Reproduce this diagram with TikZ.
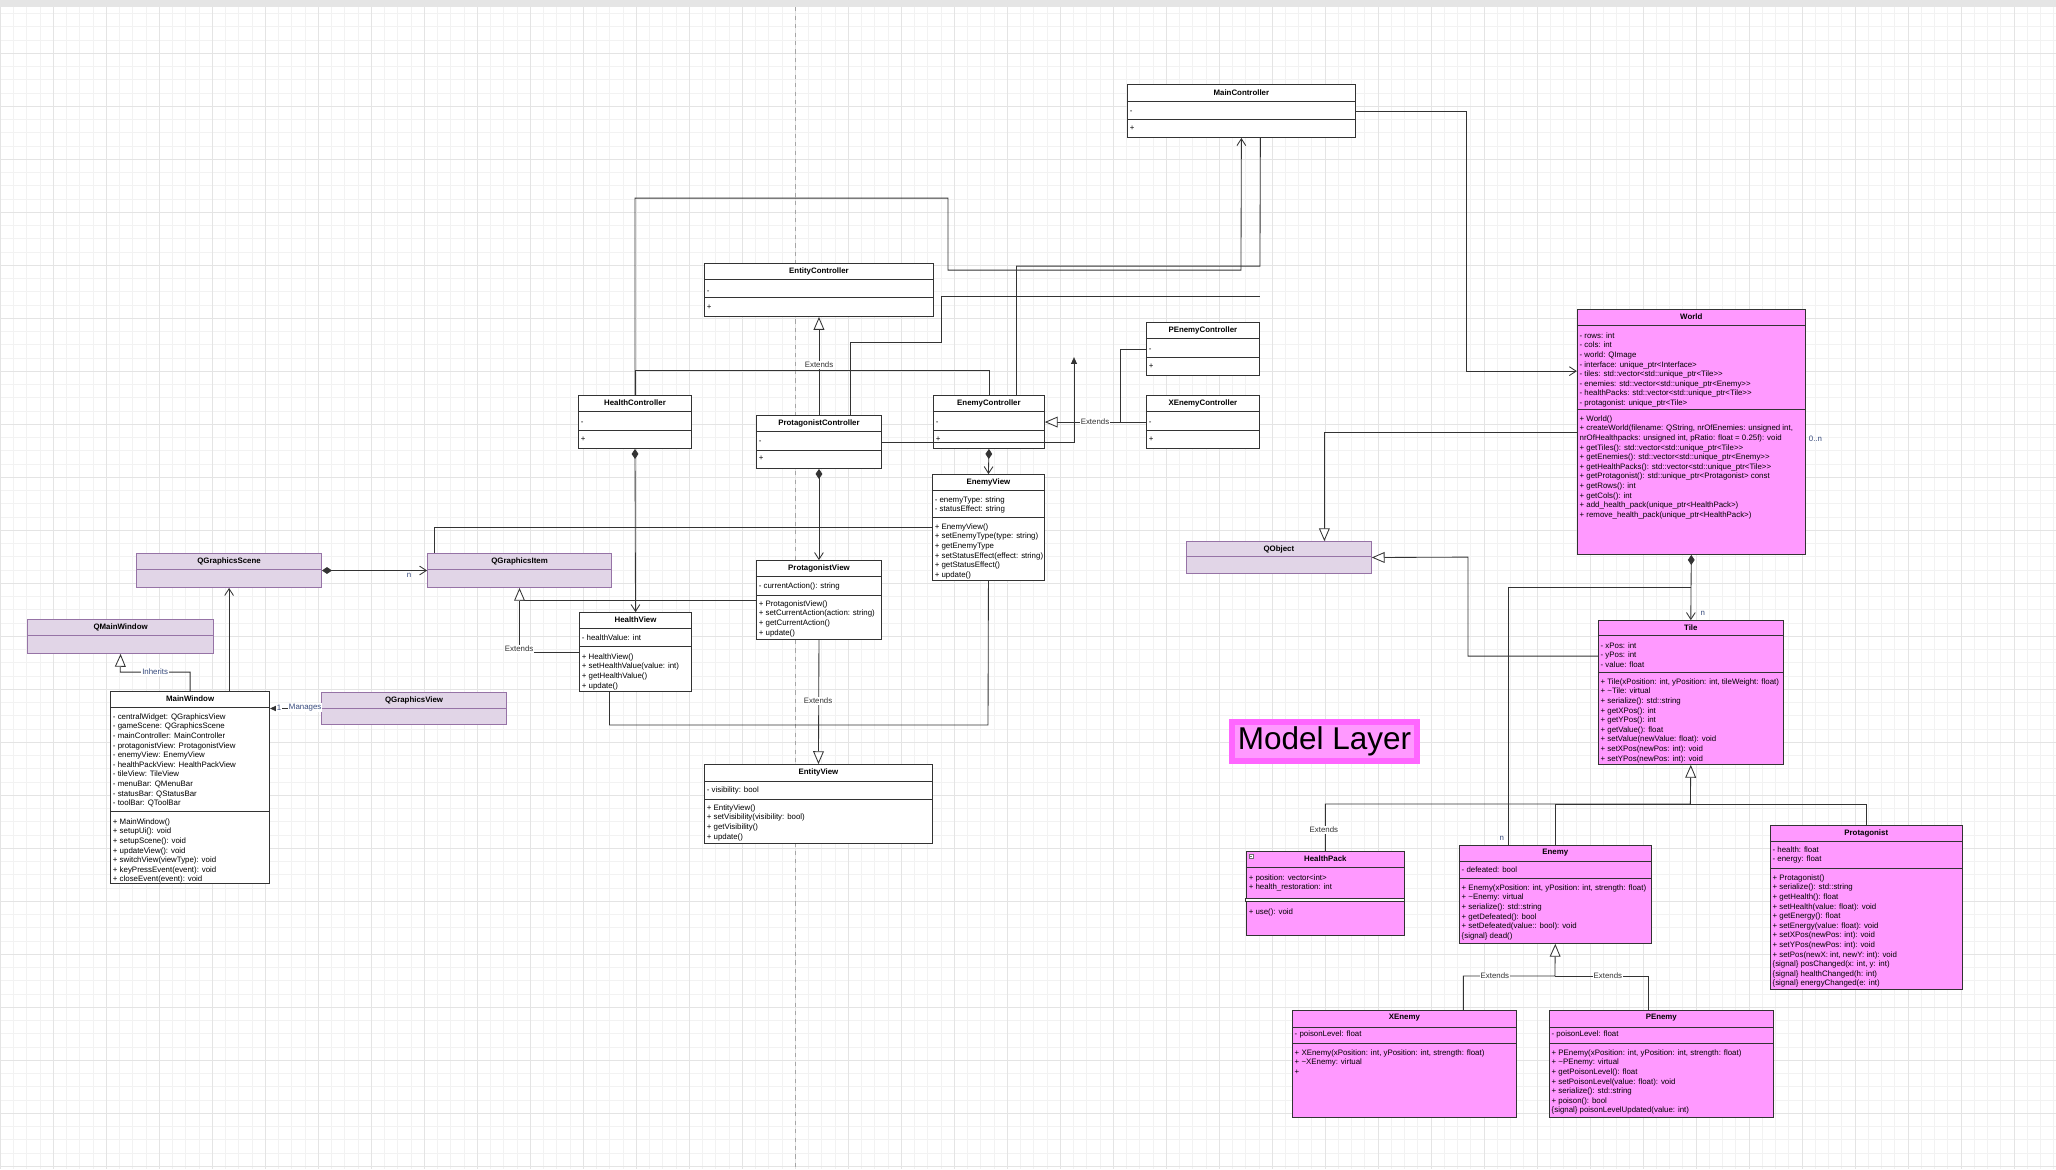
\documentclass[tikz,border=0pt]{standalone}
\usepackage{fontspec}
\newfontfamily\umlfont{Liberation Sans}
\usetikzlibrary{calc,positioning,arrows.meta}

\definecolor{linecol}{RGB}{51,51,51}
\definecolor{pinkfill}{RGB}{255,153,255}
\definecolor{qtfill}{RGB}{225,213,231}
\definecolor{qtdraw}{RGB}{150,115,166}
\definecolor{layerdraw}{RGB}{255,102,255}
\definecolor{labelcol}{RGB}{55,75,125}
\definecolor{gridminorcol}{RGB}{242,242,242}
\definecolor{gridmajorcol}{RGB}{228,228,228}

\newcommand{\memberfont}{\umlfont\fontsize{5.6}{6.83}\selectfont}
\newcommand{\px}{0.025cm}

\tikzset{
	classbox/.style={draw=linecol, fill=white, line width=0.6pt, inner sep=0pt, anchor=north west},
	qtclass/.style={classbox, draw=qtdraw, fill=qtfill},
	modelclass/.style={classbox, fill=pinkfill},
	classtitle/.style={font=\memberfont\bfseries, text=black, inner sep=0pt},
	members/.style={font=\memberfont, text=black, align=left, anchor=north west, inner sep=0pt},
	sepline/.style={line width=0.5pt},
	link/.style={draw=linecol, line width=0.6pt},
	extends/.style={link, -{Triangle[open, length=0.32cm, width=0.27cm, fill=white]}},
	assoc/.style={link, -{Straight Barb[length=0.17cm, width=0.22cm]}},
	compose/.style={link, {Diamond[length=0.25cm, width=0.17cm]}-{Straight Barb[length=0.17cm, width=0.22cm]}},
	solidtip/.style={link, -{Triangle[length=0.17cm, width=0.15cm]}},
	lbl/.style={font=\memberfont, fill=white, inner sep=0.6pt, text=labelcol},
	layerbox/.style={draw=layerdraw, fill=pinkfill, line width=0.15cm, minimum width=185*\px, minimum height=39*\px, inner sep=0pt, font=\umlfont\fontsize{22.4}{26}\selectfont},
	gridminor/.style={draw=gridminorcol, line width=0.3pt},
	gridmajor/.style={draw=gridmajorcol, line width=0.3pt},
	pagebreak/.style={draw=black!35, line width=0.4pt, dash pattern=on 3pt off 3pt},
}

% class box: [style]{name}{x}{y}{width}{height}{title}
\newcommand{\umlclass}[7][classbox]{%
	\node[#1, minimum width=#5*\px, minimum height=#6*\px] (#2) at (#3,#4) {};
	\node[classtitle] (#2-title) at ($(#2.north)+(0,8)$) {#7};
}
\newcommand{\umlsep}[3][linecol]{%
	\draw[sepline, draw=#1] ($(#2.north west)+(0,#3)$) -- ($(#2.north east)+(0,#3)$);
}
\newcommand{\umltext}[4]{%
	\node[members] (#1-#2) at ($(#1.north west)+(2.5,#3)$) {\rule{0pt}{0.75em}#4};
}

\begin{document}
\begin{tikzpicture}[x=0.025cm, y=-0.025cm]
	% canvas
	\fill[white] (0,0) rectangle (2056,1169);
	\foreach \gx in {0,13.25,...,2056} {\draw[gridminor] (\gx,0) -- (\gx,1169);}
	\foreach \gy in {0,13.25,...,1169} {\draw[gridminor] (0,\gy) -- (2056,\gy);}
	\foreach \gx in {0,53,...,2056} {\draw[gridmajor] (\gx,0) -- (\gx,1169);}
	\foreach \gy in {0,53,...,1169} {\draw[gridmajor] (0,\gy) -- (2056,\gy);}
	\fill[black!10] (0,0) rectangle (2056,7);
	\draw[pagebreak] (795,7) -- (795,1169);
	\useasboundingbox (0,0) rectangle (2056,1169);

	% controllers
	\umlclass{MainController}{1127}{84}{228}{53}{MainController}
	\umlsep{MainController}{17} \umlsep{MainController}{35}
	\umltext{MainController}{a}{23}{-}
	\umltext{MainController}{m}{40}{+}

	\umlclass{EntityController}{704}{263}{229}{53}{EntityController}
	\umlsep{EntityController}{16} \umlsep{EntityController}{34}
	\umltext{EntityController}{a}{24}{-}
	\umltext{EntityController}{m}{40}{+}

	\umlclass{HealthController}{578}{395}{113}{53}{HealthController}
	\umlsep{HealthController}{16} \umlsep{HealthController}{35}
	\umltext{HealthController}{a}{23}{-}
	\umltext{HealthController}{m}{40}{+}

	\umlclass{ProtagonistController}{756}{415}{125}{53}{ProtagonistController}
	\umlsep{ProtagonistController}{16} \umlsep{ProtagonistController}{35}
	\umltext{ProtagonistController}{a}{22}{-}
	\umltext{ProtagonistController}{m}{39}{+}

	\umlclass{EnemyController}{933}{395}{111}{53}{EnemyController}
	\umlsep{EnemyController}{16} \umlsep{EnemyController}{35}
	\umltext{EnemyController}{a}{23}{-}
	\umltext{EnemyController}{m}{40}{+}

	\umlclass{PEnemyController}{1146}{322}{113}{53}{PEnemyController}
	\umlsep{PEnemyController}{16} \umlsep{PEnemyController}{35}
	\umltext{PEnemyController}{a}{23}{-}
	\umltext{PEnemyController}{m}{40}{+}

	\umlclass{XEnemyController}{1146}{395}{113}{53}{XEnemyController}
	\umlsep{XEnemyController}{16} \umlsep{XEnemyController}{35}
	\umltext{XEnemyController}{a}{23}{-}
	\umltext{XEnemyController}{m}{40}{+}

	% views
	\umlclass{HealthView}{579}{612}{112}{79}{HealthView}
	\umlsep{HealthView}{16} \umlsep{HealthView}{34}
	\umltext{HealthView}{a}{22}{- healthValue: int}
	\umltext{HealthView}{m}{41}{+ HealthView()\\+ setHealthValue(value: int)\\+ getHealthValue()\\+ update()}

	\umlclass{ProtagonistView}{756}{560}{125}{79}{ProtagonistView}
	\umlsep{ProtagonistView}{16} \umlsep{ProtagonistView}{35}
	\umltext{ProtagonistView}{a}{22}{- currentAction(): string}
	\umltext{ProtagonistView}{m}{40}{+ ProtagonistView()\\+ setCurrentAction(action: string)\\+ getCurrentAction()\\+ update()}

	\umlclass{EnemyView}{932}{474}{112}{106}{EnemyView}
	\umlsep{EnemyView}{16} \umlsep{EnemyView}{43}
	\umltext{EnemyView}{a}{22}{- enemyType: string\\- statusEffect: string}
	\umltext{EnemyView}{m}{49}{+ EnemyView()\\+ setEnemyType(type: string)\\+ getEnemyType\\+ setStatusEffect(effect: string)\\+ getStatusEffect()\\+ update()}

	\umlclass{EntityView}{704}{764}{228}{79}{EntityView}
	\umlsep{EntityView}{17} \umlsep{EntityView}{35}
	\umltext{EntityView}{a}{22}{- visibility: bool}
	\umltext{EntityView}{m}{40}{+ EntityView()\\+ setVisibility(visibility: bool)\\+ getVisibility()\\+ update()}

	% qt classes
	\umlclass[qtclass]{QMainWindow}{27}{619}{186}{34}{QMainWindow}
	\umlsep[qtdraw]{QMainWindow}{16}
	\umlclass[qtclass]{QGraphicsScene}{136}{553}{185}{34}{QGraphicsScene}
	\umlsep[qtdraw]{QGraphicsScene}{16}
	\umlclass[qtclass]{QGraphicsItem}{427}{553}{184}{34}{QGraphicsItem}
	\umlsep[qtdraw]{QGraphicsItem}{16}
	\umlclass[qtclass]{QGraphicsView}{321}{692}{185}{32}{QGraphicsView}
	\umlsep[qtdraw]{QGraphicsView}{16}
	\umlclass[qtclass]{QObject}{1186}{541}{185}{32}{QObject}
	\umlsep[qtdraw]{QObject}{15}

	\umlclass{MainWindow}{110}{691}{159}{192}{MainWindow}
	\umlsep{MainWindow}{16} \umlsep{MainWindow}{120}
	\umltext{MainWindow}{a}{22}{- centralWidget: QGraphicsView\\- gameScene: QGraphicsScene\\- mainController: MainController\\- protagonistView: ProtagonistView\\- enemyView: EnemyView\\- healthPackView: HealthPackView\\- tileView: TileView\\- menuBar: QMenuBar\\- statusBar: QStatusBar\\- toolBar: QToolBar}
	\umltext{MainWindow}{m}{127}{+ MainWindow()\\+ setupUi(): void\\+ setupScene(): void\\+ updateView(): void\\+ switchView(viewType): void\\+ keyPressEvent(event): void\\+ closeEvent(event): void}

	% model layer
	\umlclass[modelclass]{World}{1577}{309}{228}{245}{World}
	\umlsep{World}{16} \umlsep{World}{100}
	\umltext{World}{a}{23}{- rows: int\\- cols: int\\- world: QImage\\- interface: unique\_ptr<Interface>\\- tiles: std::vector<std::unique\_ptr<Tile>{}>\\- enemies: std::vector<std::unique\_ptr<Enemy>{}>\\- healthPacks: std::vector<std::unique\_ptr<Tile>{}>\\- protagonist: unique\_ptr<Tile>}
	\umltext{World}{m}{106}{+ World()\\+ createWorld(filename: QString, nrOfEnemies: unsigned int,\\nrOfHealthpacks: unsigned int, pRatio: float = 0.25f): void\\+ getTiles(): std::vector<std::unique\_ptr<Tile>{}>\\+ getEnemies(): std::vector<std::unique\_ptr<Enemy>{}>\\+ getHealthPacks(): std::vector<std::unique\_ptr<Tile>{}>\\+ getProtagonist(): std::unique\_ptr<Protagonist> const\\+ getRows(): int\\+ getCols(): int\\+ add\_health\_pack(unique\_ptr<HealthPack>)\\+ remove\_health\_pack(unique\_ptr<HealthPack>)}

	\umlclass[modelclass]{Tile}{1598}{620}{185}{144}{Tile}
	\umlsep{Tile}{15} \umlsep{Tile}{52}
	\umltext{Tile}{a}{22}{- xPos: int\\- yPos: int\\- value: float}
	\umltext{Tile}{m}{58}{+ Tile(xPosition: int, yPosition: int, tileWeight: float)\\+ \textasciitilde Tile: virtual\\+ serialize(): std::string\\+ getXPos(): int\\+ getYPos(): int\\+ getValue(): float\\+ setValue(newValue: float): void\\+ setXPos(newPos: int): void\\+ setYPos(newPos: int): void}

	\umlclass[modelclass]{HealthPack}{1246}{851}{158}{84}{HealthPack}
	\umlsep{HealthPack}{16}
	\node[draw=linecol!70, fill=white, minimum size=4*\px, inner sep=0pt] (HealthPack-icon) at ($(HealthPack.north west)+(5,5)$) {};
	\draw[linecol!70, line width=0.3pt] ($(HealthPack-icon.west)+(1,0)$) -- ($(HealthPack-icon.east)+(-1,0)$);
	\umltext{HealthPack}{a}{23}{+ position: vector<int>\\+ health\_restoration: int}
	\draw[linecol, line width=0.7pt, fill=white] ($(HealthPack.north west)+(0,47.5)$) rectangle ($(HealthPack.north east)+(0,50.5)$);
	\umltext{HealthPack}{m}{57}{+ use(): void}

	\umlclass[modelclass]{Enemy}{1459}{845}{192}{98}{Enemy}
	\umlsep{Enemy}{16} \umlsep{Enemy}{33}
	\umltext{Enemy}{a}{21}{- defeated: bool}
	\umltext{Enemy}{m}{39}{+ Enemy(xPosition: int, yPosition: int, strength: float)\\+ \textasciitilde Enemy: virtual\\+ serialize(): std::string\\+ getDefeated(): bool\\+ setDefeated(value:: bool): void\\\{signal\} dead()}

	\umlclass[modelclass]{Protagonist}{1770}{825}{192}{164}{Protagonist}
	\umlsep{Protagonist}{16} \umlsep{Protagonist}{43}
	\umltext{Protagonist}{a}{21}{- health: float\\- energy: float}
	\umltext{Protagonist}{m}{49}{+ Protagonist()\\+ serialize(): std::string\\+ getHealth(): float\\+ setHealth(value: float): void\\+ getEnergy(): float\\+ setEnergy(value: float): void\\+ setXPos(newPos: int): void\\+ setYPos(newPos: int): void\\+ setPos(newX: int, newY: int): void\\\{signal\} posChanged(x: int, y: int)\\\{signal\} healthChanged(h: int)\\\{signal\} energyChanged(e: int)}

	\umlclass[modelclass]{XEnemy}{1292}{1010}{224}{107}{XEnemy}
	\umlsep{XEnemy}{17} \umlsep{XEnemy}{33}
	\umltext{XEnemy}{a}{20}{- poisonLevel: float}
	\umltext{XEnemy}{m}{39}{+ XEnemy(xPosition: int, yPosition: int, strength: float)\\+ \textasciitilde XEnemy: virtual\\+}

	\umlclass[modelclass]{PEnemy}{1549}{1010}{224}{107}{PEnemy}
	\umlsep{PEnemy}{17} \umlsep{PEnemy}{33}
	\umltext{PEnemy}{a}{20}{- poisonLevel: float}
	\umltext{PEnemy}{m}{39}{+ PEnemy(xPosition: int, yPosition: int, strength: float)\\+ \textasciitilde PEnemy: virtual\\+ getPoisonLevel(): float\\+ setPoisonLevel(value: float): void\\+ serialize(): std::string\\+ poison(): bool\\\{signal\} poisonLevelUpdated(value: int)}

	\node[layerbox] (model-layer) at (1324.5,741.5) {Model Layer};

	% controller links
	\draw[assoc] (HealthController.north) |- (948,198) |- (1241,270) -- (MainController.south);
	\draw[link] ($(EnemyController.north)+(27.5,0)$) |- (1260,266) -- ($(MainController.south)+(19,0)$);
	\draw[link] ($(ProtagonistController.north)+(31,0)$) |- (941,342) |- (1260,296);
	\draw[link] (HealthController.north) |- (818.5,370) -| (EnemyController.north);
	\draw[extends] (ProtagonistController.north) -- (EntityController.south);
	\node[lbl, text=black!80] (extends-ctrl) at (819,365) {Extends};
	\draw[link] (PEnemyController.west) -| (1120,421.5);
	\draw[extends] (XEnemyController.west) -- (EnemyController.east);
	\node[lbl, text=black!80] (extends-enemyctrl) at (1095,421.5) {Extends};
	\coordinate (loose-end) at (1074,357);
	\draw[solidtip] (ProtagonistController.east) -| (loose-end);
	\draw[compose] (HealthController.south) -- (HealthView.north);
	\draw[compose] (ProtagonistController.south) -- (ProtagonistView.north);
	\draw[compose] (EnemyController.south) -- (EnemyView.north);

	% view links
	\draw[link] ($(HealthView.south)+(-26,0)$) |- (988,725) -- (EnemyView.south);
	\draw[extends] (ProtagonistView.south) -- (EntityView.north);
	\node[lbl, text=black!80] (extends-view) at (818,701) {Extends};
	\draw[link] (ProtagonistView.west) -- (QGraphicsItem.south |- ProtagonistView.west);
	\draw[extends] (HealthView.west) -| (QGraphicsItem.south);
	\node[lbl, text=black!80] (extends-item) at (519,649) {Extends};
	\draw[link] (EnemyView.west) -| ($(QGraphicsItem.north west)+(7,0)$);

	% qt links
	\draw[compose] (QGraphicsScene.east) -- (QGraphicsItem.west);
	\node[lbl, fill=none] (scene-n) at (409,575) {n};
	\draw[assoc] (QGraphicsScene.south |- MainWindow.north) -- (QGraphicsScene.south);
	\draw[extends] (MainWindow.north) |- (120,672) -- (QMainWindow.south);
	\node[lbl] (inherits) at (155,672) {Inherits};
	\draw[solidtip] (QGraphicsView.west) -- (MainWindow.east |- QGraphicsView.west);
	\node[lbl] (manages) at (305,707.5) {Manages};
	\node[lbl] (manages-one) at (279,708) {1};

	% model links
	\draw[assoc] (MainController.east) -| (1466,371) -- ($(World.north west)+(0,62)$);
	\draw[extends] (World.west) -| ($(QObject.north)+(45.5,0)$);
	\draw[extends] ($(Tile.north west)+(0,36)$) -| (1468,557) -- (QObject.east);
	\draw[compose] (World.south) -- (Tile.north);
	\node[lbl, fill=none] (tile-n) at (1703,613) {n};
	\node[lbl, fill=none, anchor=west] (world-n) at (1808,439) {0..n};
	\draw[link] ($(World.south)+(0,32)$) -| ($(Enemy.north west)+(49,0)$);
	\node[lbl, fill=none] (enemy-n) at (1502,838) {n};
	\draw[link] (Enemy.north) |- (1690.5,804);
	\draw[link] (Protagonist.north) |- (1690.5,804);
	\draw[extends] (HealthPack.north) |- (1690.5,804) -- (Tile.south);
	\node[lbl, text=black!80] (extends-tile) at (1324,830) {Extends};
	\draw[link] ($(PEnemy.north)+(-13,0)$) |- (1555,976);
	\draw[extends] ($(XEnemy.north)+(59,0)$) |- (1555,976) -- (Enemy.south);
	\node[lbl, text=black!80] (extends-x) at (1495,976) {Extends};
	\node[lbl, text=black!80] (extends-p) at (1608,976) {Extends};
\end{tikzpicture}
\end{document}
